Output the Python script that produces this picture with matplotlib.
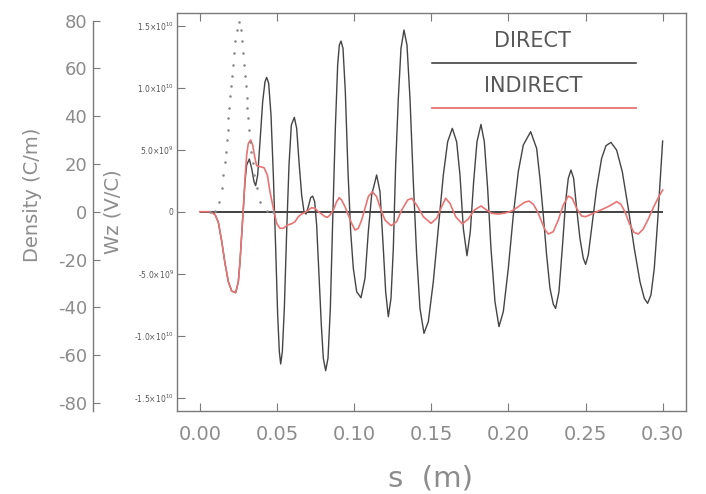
import numpy as np
import matplotlib
matplotlib.use('Agg')
import matplotlib.pyplot as plt

plt.rcParams['font.family'] = ['DejaVu Sans']
plt.rcParams['axes.unicode_minus'] = False

# bunch line density (C/m), the dotted curve
s_dens = [0.0065, 0.00972, 0.01253, 0.01405, 0.01513, 0.01599, 0.01686, 0.01729,
          0.01794, 0.01837, 0.01902, 0.01945, 0.0201, 0.02075, 0.02118, 0.02183,
          0.02269, 0.02377, 0.02528, 0.02658, 0.02744, 0.02809, 0.02874, 0.02917,
          0.02982, 0.03025, 0.03069, 0.03133, 0.03177, 0.03241, 0.03306, 0.03414,
          0.03522, 0.03674, 0.0389, 0.04322, 0.0475]
density = [0, 0.3, 4.2, 9.8, 15.4, 21, 25.2, 30.1, 34.3, 39.2, 43.4, 48.3, 52.5,
           56.7, 61.6, 66.5, 71.4, 76.3, 79.5, 76.3, 71.4, 66.5, 61.6, 56.7, 52.5,
           47.6, 43.4, 39.2, 34.3, 29.4, 25.2, 20.3, 15.4, 9.8, 4.2, 0.3, 0]

# direct wake, in units of 1e9 V/C
s_direct = [0.0, 0.00648, 0.00972, 0.01189, 0.01405, 0.01621, 0.01837, 0.02053, 0.02312, 0.02485,
            0.02593, 0.02701, 0.02809, 0.02917, 0.03025, 0.03198, 0.03350, 0.03501, 0.03609, 0.03739,
            0.03890, 0.04063, 0.04214, 0.04322, 0.04452, 0.04603, 0.04754, 0.04906, 0.05035, 0.05143,
            0.05230, 0.05338, 0.05467, 0.05619, 0.05770, 0.05921, 0.06116, 0.06267, 0.06418, 0.06591,
            0.06743, 0.06872, 0.07023, 0.07175, 0.07304, 0.07434, 0.07563, 0.07715, 0.07866, 0.07996,
            0.08147, 0.08298, 0.08450, 0.08601, 0.08774, 0.08925, 0.09033, 0.09141, 0.09271, 0.09422,
            0.09595, 0.09768, 0.09941, 0.10157, 0.10438,
            0.10697, 0.10913, 0.11129, 0.11453, 0.11669, 0.11885, 0.12037, 0.12210, 0.12383, 0.12534,
            0.12685, 0.12858, 0.13031, 0.13225, 0.13420, 0.13614, 0.13830, 0.14047, 0.14263, 0.14522,
            0.14803, 0.15127, 0.15451, 0.15776, 0.16057, 0.16359, 0.16640, 0.16856, 0.17072, 0.17310,
            0.17526, 0.17742, 0.17958, 0.18218, 0.18434, 0.18650, 0.18866, 0.19125, 0.19385, 0.19666,
            0.19990, 0.20314, 0.20638, 0.20962, 0.21438,
            0.21826, 0.22042, 0.22258, 0.22474, 0.22691, 0.22907, 0.23058, 0.23274, 0.23490, 0.23706,
            0.23879, 0.24052, 0.24225, 0.24419, 0.24635, 0.24851, 0.25003, 0.25175, 0.25392, 0.25716,
            0.26040, 0.26321, 0.26645, 0.27012, 0.27380, 0.27769, 0.28158, 0.28526, 0.28807, 0.29023,
            0.29239, 0.29455, 0.29671, 0.29844, 0.29996]
wz_direct = [0, 0, -0.22, -0.86, -2.37, -4.17, -5.64, -6.40, -6.53, -5.64,
             -4.03, -1.88, 0.27, 2.42, 3.76, 4.25, 3.49, 2.42, 2.10, 2.96,
             5.64, 8.87, 10.48, 10.83, 10.35, 7.80, 2.96, -2.96, -8.33, -11.29,
             -12.28, -11.29, -7.80, -1.61, 3.76, 6.99, 7.61, 6.72, 4.03, 1.34,
             0, -0.19, 0.40, 1.13, 1.26, 0.81, -1.08, -5.11, -9.14, -11.83,
             -12.82, -11.83, -7.80, -0.81, 6.72, 11.83, 13.44, 13.76, 13.17, 9.68,
             3.23, -1.61, -4.57, -6.45, -6.94,
             -5.38, -1.61, 1.34, 2.96, 1.61, -2.96, -6.45, -8.47, -6.99, -2.96,
             3.76, 9.14, 13.17, 14.65, 13.44, 9.14, 2.42, -3.49, -7.80, -9.81,
             -8.87, -5.64, -1.34, 2.96, 5.64, 6.72, 5.64, 2.96, -1.34, -3.55,
             -1.61, 2.42, 5.64, 7.04, 5.64, 1.88, -2.96, -7.26, -9.27, -8.06,
             -4.57, -0.27, 3.23, 5.38, 6.45,
             5.11, 2.69, -0.27, -3.49, -6.18, -7.47, -7.80, -6.45, -2.96, 0.81,
             2.69, 3.36, 2.69, 0.27, -2.15, -3.76, -4.25, -3.49, -1.34, 1.88,
             4.30, 5.32, 5.59, 4.97, 3.23, 0.27, -2.96, -5.64, -6.99, -7.39,
             -6.72, -4.57, -0.81, 2.69, 5.70]

# indirect wake, in units of 1e9 V/C
s_indirect = [0.0, 0.00648, 0.00972, 0.01189, 0.01405, 0.01621, 0.01837, 0.02053, 0.02312, 0.02485,
              0.02593, 0.02701, 0.02809, 0.02917, 0.03025, 0.03133, 0.03285, 0.03414, 0.03566, 0.03674,
              0.03890, 0.04149, 0.04365, 0.04538, 0.04754, 0.04970, 0.05186, 0.05403, 0.05662, 0.05943,
              0.06159, 0.06375, 0.06591, 0.06807, 0.07023, 0.07239, 0.07455, 0.07672, 0.07888, 0.08104,
              0.08255, 0.08428, 0.08644, 0.08860, 0.09033, 0.09184, 0.09400, 0.09616, 0.09833, 0.10049,
              0.10265, 0.10481,
              0.10697, 0.10913, 0.11172, 0.11453, 0.11734, 0.11993, 0.12383, 0.12750, 0.13074, 0.13463,
              0.13722, 0.14047, 0.14479, 0.14976, 0.15343, 0.15667, 0.15927, 0.16208, 0.16575, 0.17007,
              0.17396, 0.17785, 0.18218, 0.18520, 0.18909, 0.19341, 0.19773, 0.20205, 0.20638, 0.21027,
              0.21329, 0.21610,
              0.21891, 0.22150, 0.22370, 0.22583, 0.22907, 0.23231, 0.23555, 0.23879, 0.24138, 0.24419,
              0.24743, 0.25003, 0.25348, 0.25716, 0.26148, 0.26580, 0.27012, 0.27293, 0.27553, 0.27834,
              0.28136, 0.28417, 0.28742, 0.29066, 0.29390, 0.29714, 0.29996]
wz_indirect = [0, 0, -0.22, -0.86, -2.37, -4.17, -5.64, -6.40, -6.53, -5.64,
               -4.03, -1.88, 0.27, 2.69, 4.57, 5.51, 5.78, 5.38, 4.30, 3.71,
               3.63, 3.55, 2.96, 1.61, 0.27, -0.94, -1.34, -1.34, -1.08, -0.97,
               -0.81, -0.40, -0.19, -0.05, 0.13, 0.32, 0.27, 0, -0.19, -0.40,
               -0.46, -0.27, 0.13, 0.81, 1.13, 0.94, 0.40, -0.27, -0.94, -1.48,
               -1.34, -0.67,
               0.27, 1.21, 1.61, 1.21, 0.13, -0.67, -1.13, -0.81, 0.13, 0.94,
               1.08, 0.54, -0.40, -0.94, -0.54, 0.40, 1.08, 0.67, -0.40, -0.99,
               -0.59, 0.13, 0.46, 0.19, -0.13, -0.19, -0.11, 0.05, 0.40, 0.75,
               0.86, 0.60,
               0, -0.8, -1.45, -1.80, -1.61, -0.67, 0.54, 1.26, 1.08, 0.27,
               -0.35, -0.40, -0.22, 0, 0.22, 0.48, 0.81, 0.59, 0, -0.94,
               -1.67, -1.80, -1.40, -0.59, 0.32, 1.13, 1.75]

x_ticks = [0.00, 0.05, 0.10, 0.15, 0.20, 0.25, 0.30]
wz_ticks = [-1.5e10, -1.0e10, -5.0e9, 0, 5.0e9, 1.0e10, 1.5e10]
wz_labels = [r'-1.5$\times$10$^{10}$', r'-1.0$\times$10$^{10}$', r'-5.0$\times$10$^{9}$', '0',
             r'5.0$\times$10$^{9}$', r'1.0$\times$10$^{10}$', r'1.5$\times$10$^{10}$']
dens_ticks = [-80, -60, -40, -20, 0, 20, 40, 60, 80]

GRAY = '#8c8c8c'
AXC = '#7a7a7a'
BLACK = '#444444'
RED = '#e87474'

fig = plt.figure(figsize=(7.06, 4.94), dpi=100)
ax = fig.add_axes([0.2501, 0.1686, 0.7222, 0.8045])

wz_d = np.array(wz_direct) * 1e9
wz_i = np.array(wz_indirect) * 1e9

ax.hlines(0, s_direct[0], s_direct[-1], color='#333333', lw=1.3, zorder=2)
ax.plot(s_direct, wz_d, color=BLACK, lw=1.0, zorder=3, solid_joinstyle='round')
ax.plot(s_indirect, wz_i, color=RED, lw=1.2, zorder=4, solid_joinstyle='round')

ax.set_xlim(-0.0152, 0.3154)
ax.set_ylim(-1.605e10, 1.6e10)
ax.set_xticks(x_ticks)
ax.set_xticklabels(['%.2f' % v for v in x_ticks])
ax.set_yticks(wz_ticks)
ax.set_yticklabels(wz_labels)
ax.tick_params(axis='x', direction='in', length=6, width=0.8, color=AXC,
               labelsize=14, labelcolor=GRAY, pad=10, top=True)
ax.tick_params(axis='y', direction='in', length=6, width=0.8, color=AXC,
               labelsize=5.5, labelcolor='#555555', pad=2, right=True)
for sp in ax.spines.values():
    sp.set_color(AXC)
    sp.set_linewidth(1.0)

# legend drawn by hand like the original
ax.text(0.697, 0.931, 'DIRECT', transform=ax.transAxes, ha='center', va='center',
        fontsize=15, color='#595959')
ax.plot([0.500, 0.901], [0.8757, 0.8757], transform=ax.transAxes, color='#333333', lw=1.1)
ax.text(0.699, 0.8176, 'INDIRECT', transform=ax.transAxes, ha='center', va='center',
        fontsize=15, color='#595959')
ax.plot([0.500, 0.901], [0.7625, 0.7625], transform=ax.transAxes, color=RED, lw=1.3)

# density axis on the far left
axd = ax.twinx()
axd.plot(s_dens, density, linestyle='none', marker='.', ms=1.7, color='#8a8a8a', zorder=5)
axd.set_ylim(-83.3, 83.1)
axd.set_yticks(dens_ticks)
axd.yaxis.set_ticks_position('left')
axd.yaxis.set_label_position('left')
for name in ['right', 'top', 'bottom']:
    axd.spines[name].set_visible(False)
axd.spines['left'].set_visible(True)
axd.spines['left'].set_position(('axes', -0.1646))
axd.spines['left'].set_bounds(-83.3, 80)
axd.spines['left'].set_color(AXC)
axd.spines['left'].set_linewidth(1.0)
axd.tick_params(axis='y', direction='in', length=5, width=0.8, color=AXC,
                labelsize=13, labelcolor=GRAY, pad=4)

fig.text(32 / 706, 1 - 195 / 494, 'Density (C/m)', rotation=90, ha='center', va='center',
         fontsize=14, color=GRAY)
fig.text(113 / 706, 1 - 212 / 494, 'Wz (V/C)', rotation=90, ha='center', va='center',
         fontsize=14, color=GRAY)
fig.text(431 / 706, 1 - 478 / 494, 's  (m)', ha='center', va='center',
         fontsize=21, color=GRAY)

fig.savefig('out.png', dpi=100)
